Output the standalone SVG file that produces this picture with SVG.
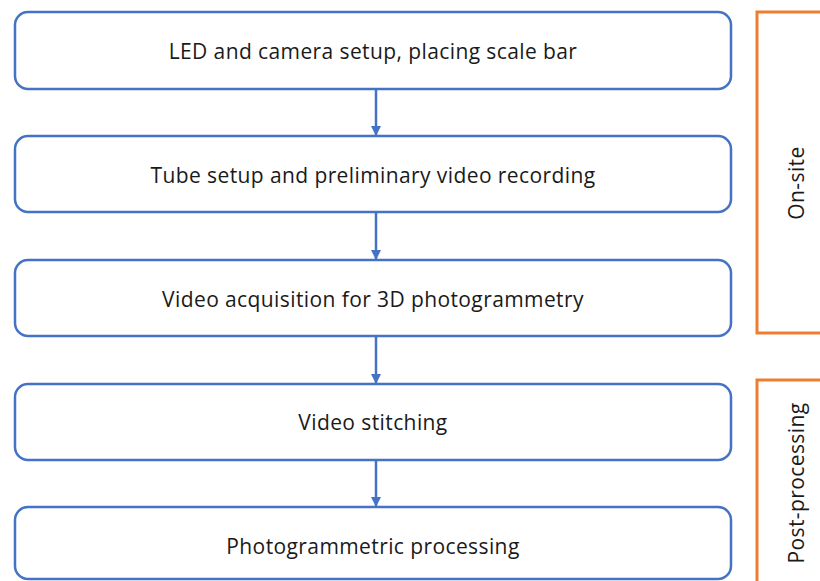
<svg xmlns="http://www.w3.org/2000/svg" width="820" height="581" viewBox="0 0 820 581">
<style>
.box{fill:#fff;stroke:#4472C4;stroke-width:2.5}
.grp{fill:#fff;stroke:#ED7D31;stroke-width:3}
.t{font-family:"Open Sans","Noto Sans",sans-serif;font-size:21px;letter-spacing:0.4px;fill:#1a1a1a;text-anchor:middle}
.c{stroke:#4472C4;stroke-width:2.5;fill:none}
</style>
<defs>
<marker id="ah" viewBox="0 0 10 10" refX="9" refY="5" markerWidth="4" markerHeight="4" orient="auto" markerUnits="strokeWidth">
<path d="M0,0 L10,5 L0,10 z" fill="#4472C4"/>
</marker>
</defs>
<rect width="820" height="581" fill="#fff"/>
<g id="onsite"><rect class="grp" x="757" y="12" width="70" height="321"/><text class="t" transform="translate(804,183) rotate(-90)">On-site</text></g>
<g id="postprocessing"><rect class="grp" x="757" y="380" width="70" height="215"/><text class="t" transform="translate(804,483) rotate(-90)">Post-processing</text></g>
<g id="connectors">
<line class="c" x1="376" y1="89" x2="376" y2="135" marker-end="url(#ah)"/>
<line class="c" x1="376" y1="212" x2="376" y2="259" marker-end="url(#ah)"/>
<line class="c" x1="376" y1="336" x2="376" y2="383" marker-end="url(#ah)"/>
<line class="c" x1="376" y1="460" x2="376" y2="506" marker-end="url(#ah)"/>
</g>
<g id="n1"><rect class="box" x="15" y="12" width="716" height="77" rx="13"/><text class="t" x="373" y="59">LED and camera setup, placing scale bar</text></g>
<g id="n2"><rect class="box" x="15" y="136" width="716" height="76" rx="13"/><text class="t" x="373" y="183">Tube setup and preliminary video recording</text></g>
<g id="n3"><rect class="box" x="15" y="260" width="716" height="76" rx="13"/><text class="t" x="373" y="307">Video acquisition for 3D photogrammetry</text></g>
<g id="n4"><rect class="box" x="15" y="384" width="716" height="76" rx="13"/><text class="t" x="373" y="430">Video stitching</text></g>
<g id="n5"><rect class="box" x="15" y="507" width="716" height="72" rx="13"/><text class="t" x="373" y="554">Photogrammetric processing</text></g>
</svg>
